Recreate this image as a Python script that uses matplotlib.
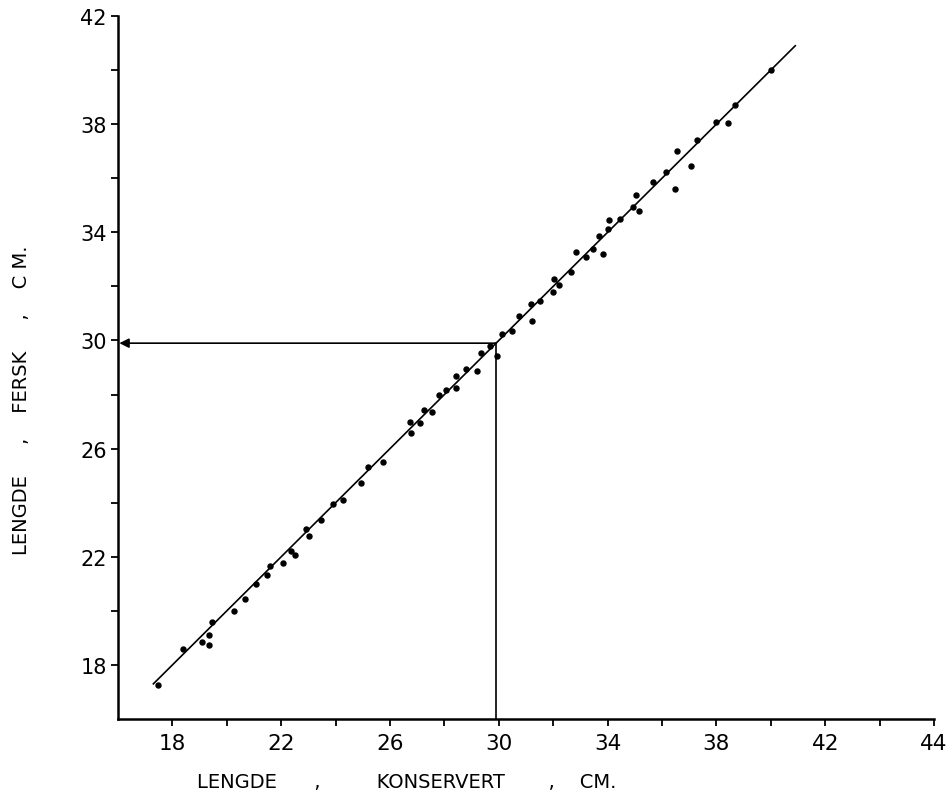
import matplotlib
matplotlib.use("Agg")
import matplotlib.pyplot as plt

# lengde konservert (x) og lengde fersk (y), cm
x_kons = [17.47, 18.40, 19.08, 19.34, 19.34, 19.45, 20.25, 20.67, 21.09, 21.46,
          21.57, 22.06, 22.37, 22.52, 22.93, 23.03, 23.47, 23.90, 24.26, 24.93,
          25.20, 25.74, 26.72, 26.78, 27.09, 27.24, 27.54, 27.79, 28.07, 28.41,
          28.43, 28.79, 29.19, 29.35, 29.66, 29.93, 30.12, 30.49, 30.76, 31.21,
          31.19, 31.50, 31.98, 32.03, 32.23, 32.67, 32.83, 33.21, 33.48, 33.70,
          33.83, 34.03, 34.04, 34.44, 34.94, 35.05, 35.17, 35.68, 36.13, 36.48,
          36.54, 37.07, 37.29, 37.97, 38.43, 38.69, 39.99]
y_fersk = [17.24, 18.60, 18.85, 19.10, 18.75, 19.57, 20.00, 20.45, 21.00, 21.32,
           21.67, 21.78, 22.21, 22.07, 23.04, 22.78, 23.37, 23.97, 24.10, 24.71,
           25.31, 25.51, 26.97, 26.58, 26.93, 27.43, 27.36, 27.99, 28.18, 28.24,
           28.68, 28.93, 28.87, 29.52, 29.79, 29.42, 30.23, 30.34, 30.89, 30.73,
           31.36, 31.45, 31.78, 32.29, 32.06, 32.53, 33.27, 33.08, 33.38, 33.87,
           33.21, 34.12, 34.44, 34.49, 34.92, 35.38, 34.79, 35.86, 36.23, 35.60,
           37.00, 36.44, 37.40, 38.07, 38.05, 38.72, 40.00]

# regresjonslinje
fit_x = [17.3, 40.9]
fit_y = [17.3, 40.9]

# avlesning ved 30 cm
read_x = 29.9
read_y = 29.9

x_ticks = [18, 20, 22, 24, 26, 28, 30, 32, 34, 36, 38, 40, 42, 44, 46]
x_labels = ["18", "", "22", "", "26", "", "30", "", "34", "", "38", "", "42", "", "44"]
y_ticks = [18, 20, 22, 24, 26, 28, 30, 32, 34, 36, 38, 40, 42]
y_labels = ["18", "", "22", "", "26", "", "30", "", "34", "", "38", "", "42"]

plt.rcParams['font.family'] = ['DejaVu Sans']

fig = plt.figure(figsize=(9.48, 8.03), dpi=100)
ax = fig.add_axes([118 / 948, 1 - 720 / 803, (934 - 118) / 948, (720 - 17) / 803])

ax.plot(fit_x, fit_y, color='black', linewidth=1.2)
ax.plot(x_kons, y_fersk, 'o', color='black', markersize=3.6)

# hjelpelinjer med pil
ax.plot([read_x, read_x], [16, read_y], color='black', linewidth=1.2)
ax.annotate('', xy=(16.05, read_y), xytext=(read_x, read_y),
            arrowprops=dict(arrowstyle='-|>', color='black', lw=1.2,
                            mutation_scale=14, shrinkA=0, shrinkB=0))

ax.set_xlim(16, 46)
ax.set_ylim(16, 42)
ax.set_xticks(x_ticks)
ax.set_xticklabels(x_labels)
ax.set_yticks(y_ticks)
ax.set_yticklabels(y_labels)

for side in ['top', 'right']:
    ax.spines[side].set_visible(False)
for side in ['left', 'bottom']:
    ax.spines[side].set_linewidth(1.8)

ax.tick_params(axis='x', direction='out', length=5, width=1.3, pad=5, labelsize=15.5)
ax.tick_params(axis='y', direction='out', length=5, width=1.3, pad=3, labelsize=15)

fig.text(407 / 948, 1 - 783 / 803, "LENGDE      ,         KONSERVERT       ,    CM.",
         ha='center', va='center', fontsize=14)
fig.text(22 / 948, 1 - 400 / 803, "LENGDE     ,    FERSK     ,    C M.",
         ha='center', va='center', rotation=90, fontsize=14)

fig.savefig("out.png", dpi=100, facecolor='white')
